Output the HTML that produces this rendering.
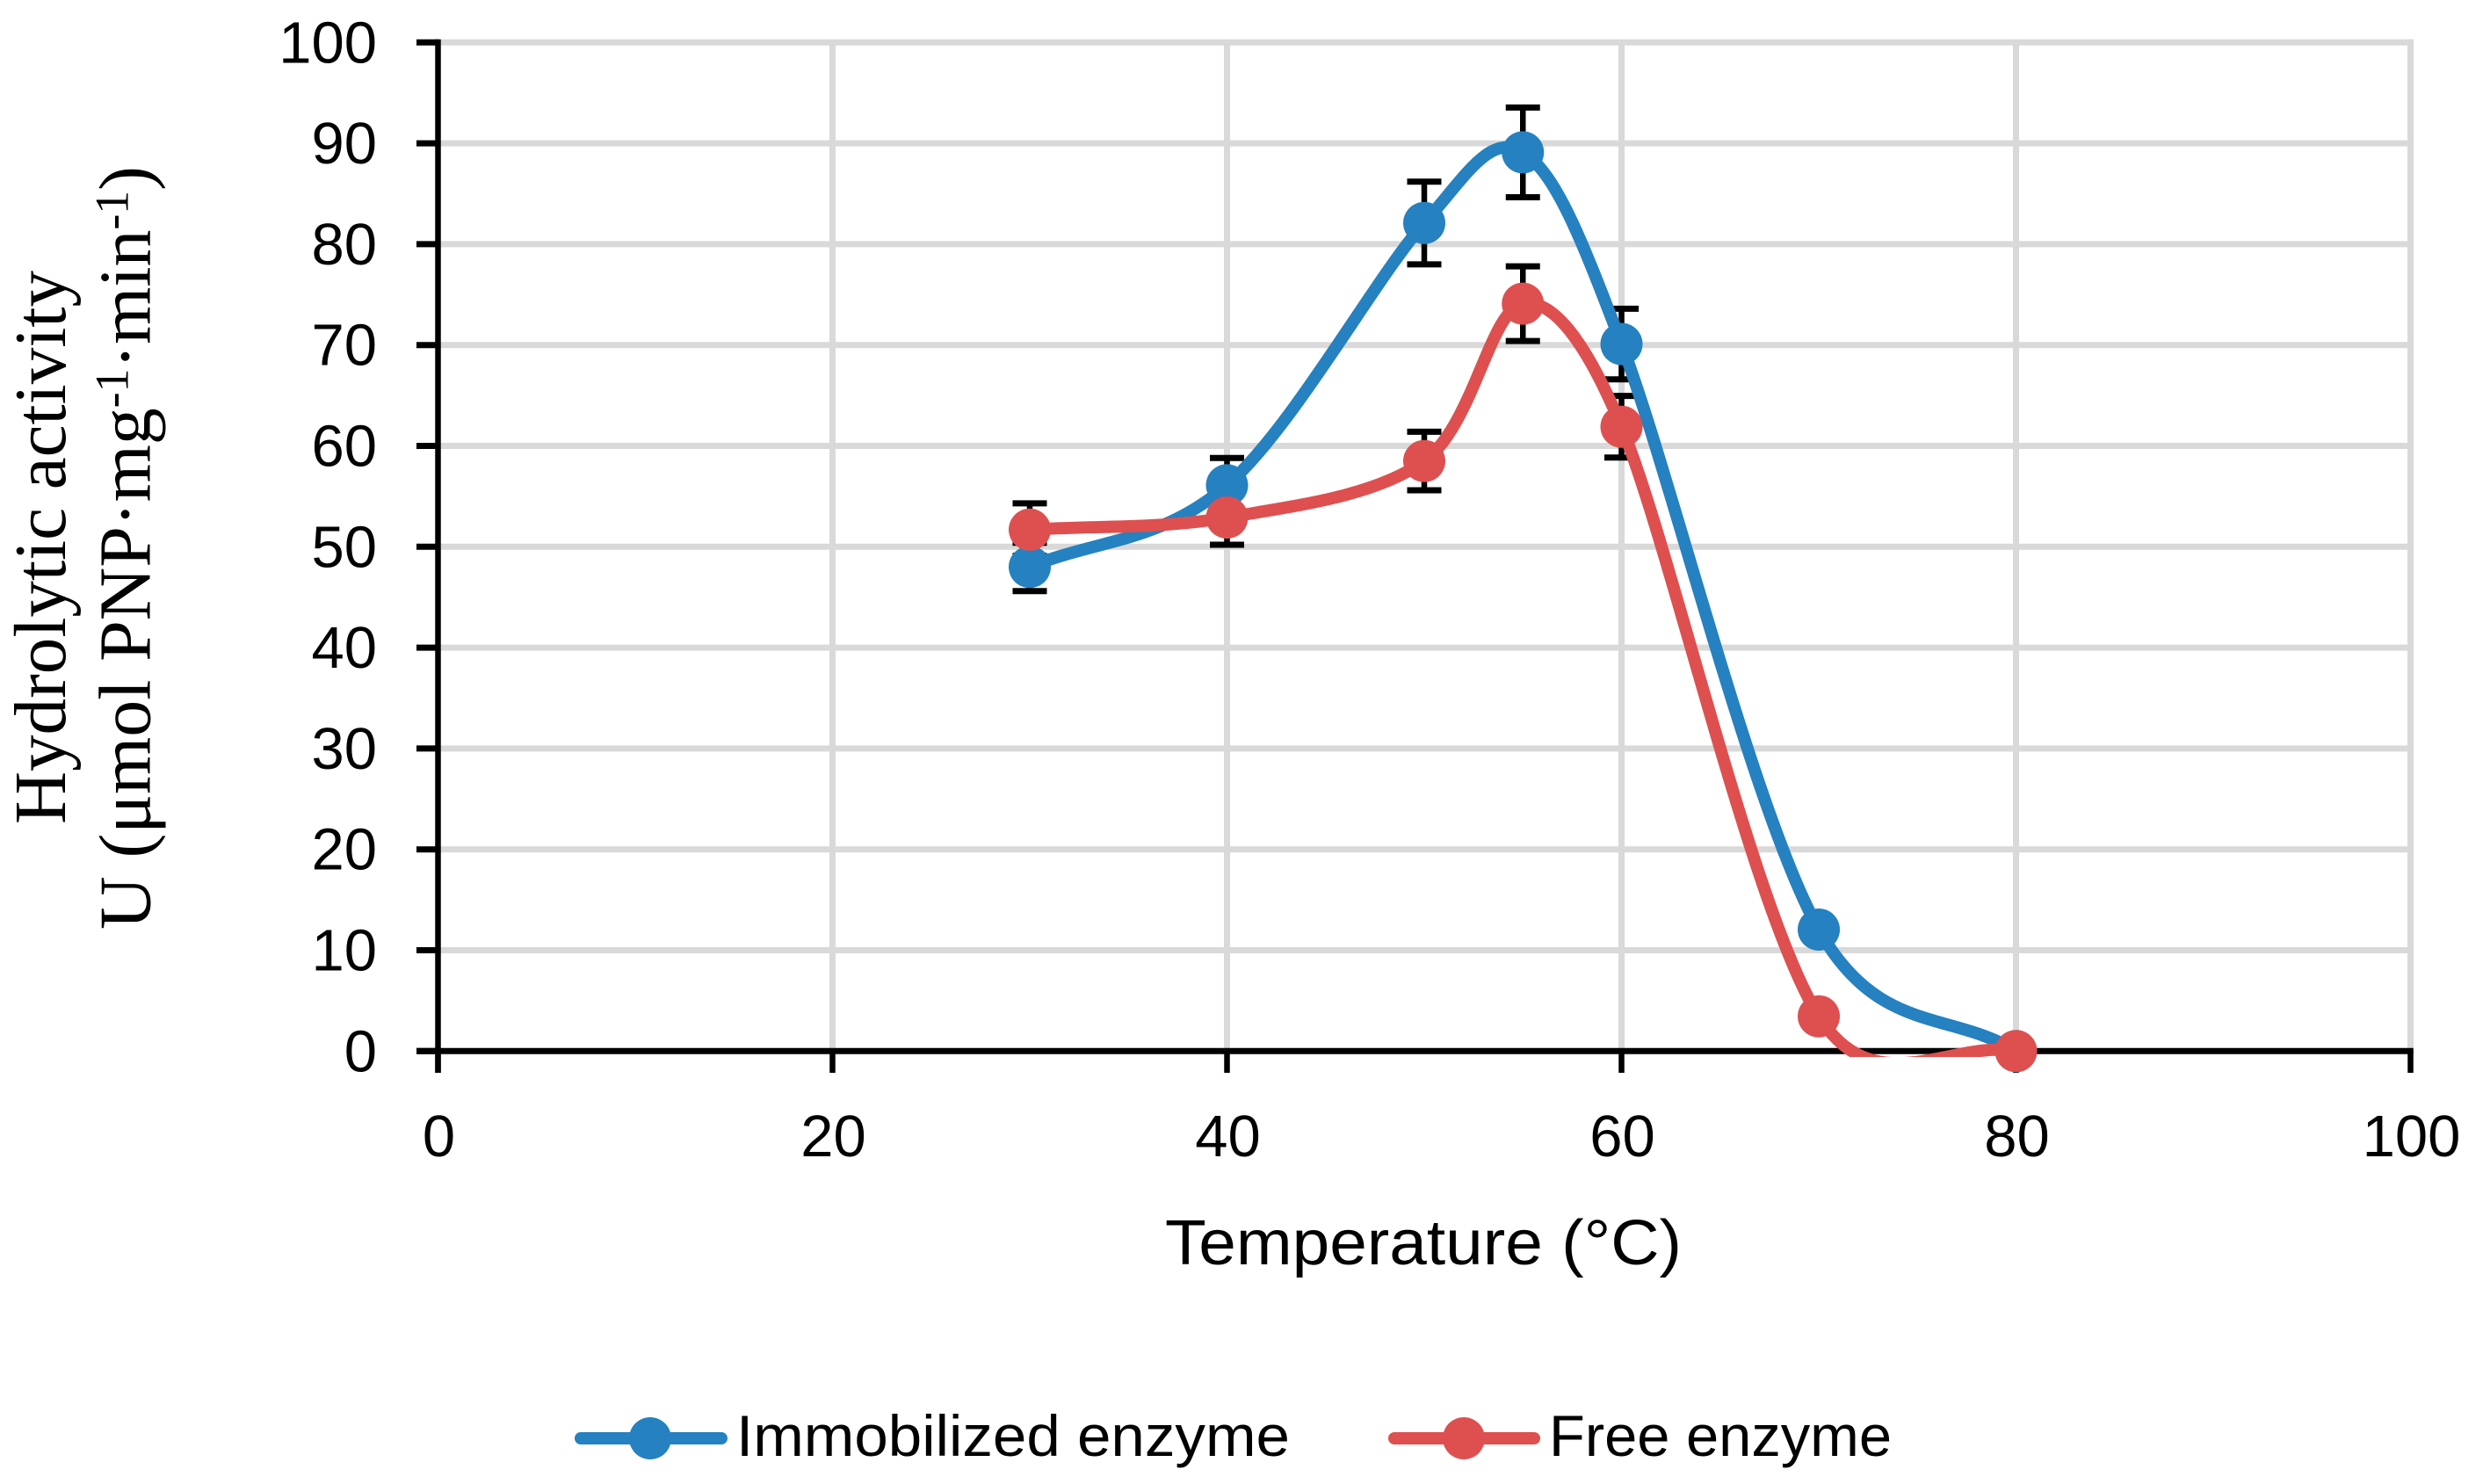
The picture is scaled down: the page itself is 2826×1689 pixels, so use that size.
<!DOCTYPE html>
<html>
<head>
<meta charset="utf-8">
<title>Hydrolytic activity vs temperature</title>
<style>
html,body{margin:0;padding:0;background:#fff;}
svg{display:block;}
text{fill:#000;}
.sans{font-family:"Liberation Sans",sans-serif;font-size:66px;}
.tick{font-family:"Liberation Sans",sans-serif;font-size:67px;}
.title{font-family:"Liberation Sans",sans-serif;font-size:72px;}
.serif{font-family:"Liberation Serif",serif;font-size:84px;}
</style>
</head>
<body>
<svg id="chart" xmlns="http://www.w3.org/2000/svg" width="2826" height="1689" viewBox="0 0 2826 1689">
  <defs>
    <clipPath id="plot-clip"><rect x="480" y="40" width="2280" height="1163"/></clipPath>
  </defs>
  <rect x="0" y="0" width="2826" height="1689" fill="#fff"/>
  <g id="grid"></g>
  <g id="axes"></g>
  <g id="errors"></g>
  <g id="series"></g>

  <text class="title" x="1326" y="1439" textLength="588" lengthAdjust="spacingAndGlyphs">Temperature (°C)</text>

  <text class="serif" transform="translate(74,938) rotate(-90)" textLength="630" lengthAdjust="spacingAndGlyphs">Hydrolytic activity</text>
  <text class="serif" transform="translate(170.5,1058) rotate(-90)" textLength="869" lengthAdjust="spacing">U (μmol PNP·mg<tspan font-size="54" dy="-25">-1</tspan><tspan dy="25">·min</tspan><tspan font-size="54" dy="-25">-1</tspan><tspan dy="25">)</tspan></text>

  <g>
    <g>
      <line x1="661" y1="1637" x2="821" y2="1637" stroke="#2581c0" stroke-width="14" stroke-linecap="round"/>
      <circle cx="740" cy="1637" r="24" fill="#2581c0"/>
      <text class="sans" x="838" y="1657" textLength="630" lengthAdjust="spacingAndGlyphs">Immobilized enzyme</text>
    </g>
    <g>
      <line x1="1587" y1="1637" x2="1746" y2="1637" stroke="#dd504f" stroke-width="14" stroke-linecap="round"/>
      <circle cx="1666" cy="1637" r="24" fill="#dd504f"/>
      <text class="sans" x="1763" y="1657" textLength="390" lengthAdjust="spacingAndGlyphs">Free enzyme</text>
    </g>
  </g>
</svg>
<script>
const temperatures = [30, 40, 50, 55, 60, 70, 80];
const immobilizedValues = [48, 56.1, 82.1, 89.1, 70.1, 12.05, 0];
const immobilizedErrors = [2.4, 2.7, 4.1, 4.45, 3.5, 0, 0];
const freeValues = [51.7, 52.9, 58.5, 74.1, 61.9, 3.45, 0];
const freeErrors = [2.6, 2.7, 2.9, 3.7, 3.05, 0, 0];
const xTickLabels = [0, 20, 40, 60, 80, 100];
const yTickLabels = [0, 10, 20, 30, 40, 50, 60, 70, 80, 90, 100];

const NS = 'http://www.w3.org/2000/svg';
function xScale(v) { return 498.5 + v * 22.45; }
function yScale(v) { return 1196.3 - v * 11.48; }
function make(tag, parent, attrs) {
  const el = document.createElementNS(NS, tag);
  for (const k in attrs) el.setAttribute(k, attrs[k]);
  parent.appendChild(el);
  return el;
}
const gridG = document.getElementById('grid');
const axesG = document.getElementById('axes');
const errorsG = document.getElementById('errors');
const seriesG = document.getElementById('series');

yTickLabels.forEach(function (v) {
  const y = yScale(v);
  if (v !== 0) {
    const g = make('line', gridG, {x1: 498.5, y1: y, x2: xScale(100) + 3.5, y2: y, stroke: '#d9d9d9', 'stroke-width': 7});
    
    
  }
  const t = make('line', axesG, {x1: 474, y1: y, x2: 498.5, y2: y, stroke: '#000', 'stroke-width': 7});
  
  
  const l = make('text', axesG, {x: 429, y: y + 23, 'text-anchor': 'end', class: 'tick'});
  
  
  l.textContent = v;
});
xTickLabels.forEach(function (v) {
  const x = xScale(v);
  if (v !== 0) {
    const g = make('line', gridG, {x1: x, y1: yScale(100) - 3.5, x2: x, y2: yScale(0), stroke: '#d9d9d9', 'stroke-width': 7});
    
    
  }
  const t = make('line', axesG, {x1: x, y1: yScale(0), x2: x, y2: 1221, stroke: '#000', 'stroke-width': 6.5});
  
  
  const l = make('text', axesG, {x: x + 1, y: 1316, 'text-anchor': 'middle', class: 'tick'});
  
  
  l.textContent = v;
});
const yAxisLine = make('line', axesG, {x1: xScale(0), y1: yScale(100) - 3.5, x2: xScale(0), y2: 1221, stroke: '#000', 'stroke-width': 6.5});


const xAxisLine = make('line', axesG, {x1: 474, y1: yScale(0), x2: xScale(100) + 3.25, y2: yScale(0), stroke: '#000', 'stroke-width': 7});



function drawErrors(values, errors) {
  values.forEach(function (v, i) {
    if (!errors[i]) return;
    const x = xScale(temperatures[i]);
    const top = yScale(v + errors[i]);
    const bot = yScale(v - errors[i]);
    const stem = make('line', errorsG, {x1: x, y1: top, x2: x, y2: bot, stroke: '#000', 'stroke-width': 6.5});
    
    
    [top, bot].forEach(function (cy) {
      const cap = make('line', errorsG, {x1: x - 19.5, y1: cy, x2: x + 19.5, y2: cy, stroke: '#000', 'stroke-width': 7});
      
      
    });
  });
}
drawErrors(immobilizedValues, immobilizedErrors);
drawErrors(freeValues, freeErrors);

function smoothPath(pts) {
  function dist(a, b) { return Math.hypot(a[0] - b[0], a[1] - b[1]); }
  function handles(i) {
    const p = pts[i], prev = pts[i - 1], next = pts[i + 1];
    if (!prev) return {out: [(next[0] - p[0]) / 3, (next[1] - p[1]) / 3]};
    if (!next) return {in: [(p[0] - prev[0]) / 3, (p[1] - prev[1]) / 3]};
    const d02 = dist(prev, next);
    const dx = (next[0] - prev[0]) / d02, dy = (next[1] - prev[1]) / d02;
    const lenIn = Math.min(d02 / 6, dist(prev, p) * 0.52);
    const lenOut = Math.min(d02 / 6, dist(p, next) * 0.52);
    return {in: [dx * lenIn, dy * lenIn], out: [dx * lenOut, dy * lenOut]};
  }
  let d = 'M' + pts[0][0] + ' ' + pts[0][1];
  for (let i = 0; i < pts.length - 1; i++) {
    const a = handles(i).out, b = handles(i + 1).in;
    d += ' C' + (pts[i][0] + a[0]) + ' ' + (pts[i][1] + a[1]) + ' ' +
         (pts[i + 1][0] - b[0]) + ' ' + (pts[i + 1][1] - b[1]) + ' ' +
         pts[i + 1][0] + ' ' + pts[i + 1][1];
  }
  return d;
}
function drawSeries(values, color) {
  const pts = values.map(function (v, i) { return [xScale(temperatures[i]), yScale(v)]; });
  const path = make('path', seriesG, {d: smoothPath(pts), fill: 'none', stroke: color, 'stroke-width': 14, 'clip-path': 'url(#plot-clip)'});
  
  
  pts.forEach(function (p) {
    const c = make('circle', seriesG, {cx: p[0], cy: p[1], r: 24, fill: color});
    
    
  });
}
drawSeries(immobilizedValues, '#2581c0');
drawSeries(freeValues, '#dd504f');
</script>
</body>
</html>
